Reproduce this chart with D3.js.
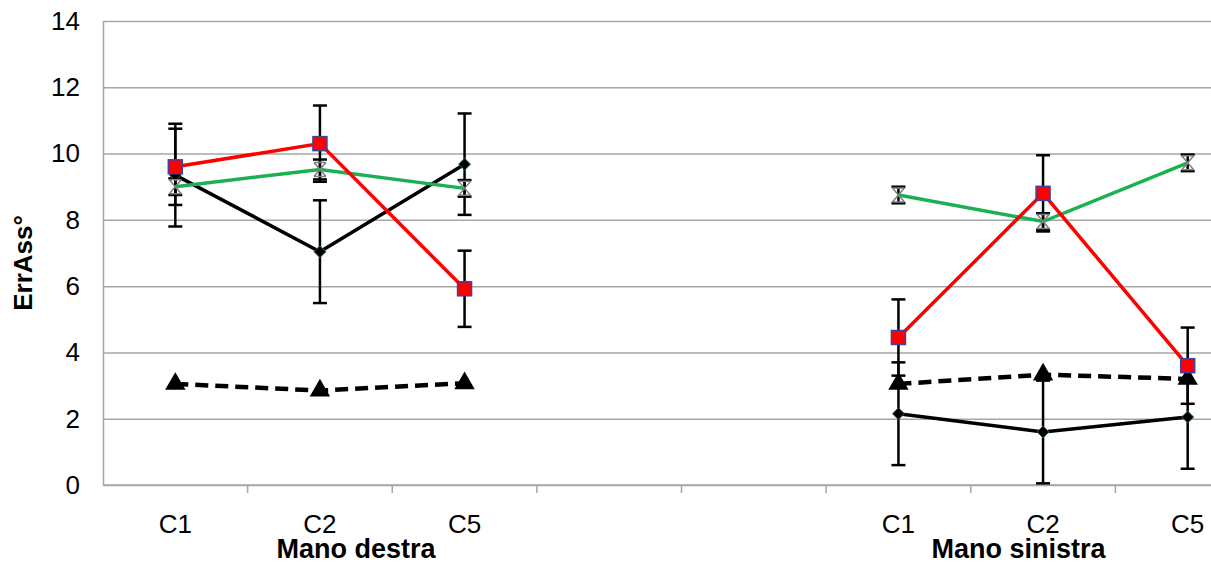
<!DOCTYPE html>
<html>
<head>
<meta charset="utf-8">
<script src="https://cdn.jsdelivr.net/npm/d3@7"></script>
<style>
  body { margin: 0; background: #fff; }
  svg { display: block; font-family: "Liberation Sans", Arial, sans-serif; }
</style>
</head>
<body>
<div id="chart"></div>
<script>
// Category slots (two groups of three, two empty slots between them)
const slots = [0, 1, 2, 3, 4, 5, 6, 7];
const tickLabels = ["C1", "C2", "C5", "", "", "C1", "C2", "C5"];
const groupLabels = ["Mano destra", "Mano sinistra"];
const yTicks = [0, 2, 4, 6, 8, 10, 12, 14];

// Series values (null = empty slot)
const blackMean = [9.35, 7.04, 9.68, null, null, 2.15, 1.6, 2.05];
const blackErr  = [1.55, 1.55, 1.53, null, null, 1.55, 1.55, 1.56];
const redMean   = [9.6, 10.3, 5.92, null, null, 4.45, 8.8, 3.6];
const redErr    = [1.15, 1.15, 1.15, null, null, 1.15, 1.15, 1.15];
const greenMean = [9.0, 9.52, 8.95, null, null, 8.75, 7.95, 9.72];
const greenErr  = [0.25, 0.3, 0.25, null, null, 0.25, 0.25, 0.25];
const triMean   = [3.05, 2.85, 3.07, null, null, 3.05, 3.33, 3.2];

const W = 1211, H = 563;
const plotLeft = 103, plotTop = 21, plotBottom = 485;

const svg = d3.select('#chart').append('svg')
    .attr('width', W)
    .attr('height', H);

// scales (plot continues past the right edge, as in the cropped original)
const x = d3.scaleBand().domain(slots).range([plotLeft, 1260]).padding(0);
const y = d3.scaleLinear().domain([0, 14]).range([plotBottom, plotTop]);
const cx = i => x(i) + x.bandwidth() / 2;

// gridlines
svg.append('g')
    .attr('transform', `translate(${plotLeft},0)`)
    .call(d3.axisLeft(y).tickValues(yTicks).tickSize(-(W - plotLeft)).tickFormat(''))
    .call(g => g.select('.domain').remove())
    .call(g => g.selectAll('line').attr('stroke', '#a6a6a6').attr('stroke-width', 1.5));

// y axis labels
svg.append('g')
    .attr('transform', `translate(${plotLeft},0)`)
    .call(d3.axisLeft(y).tickValues(yTicks).tickSize(0).tickPadding(23))
    .call(g => g.select('.domain').attr('stroke', '#a6a6a6').attr('stroke-width', 1.5))
    .call(g => g.selectAll('text')
        .attr('font-size', 26)
        .attr('fill', '#000')
        .attr('font-family', '"Liberation Sans", Arial, sans-serif'));

// x axis line + boundary tick marks
svg.append('line')
    .attr('x1', plotLeft).attr('x2', W)
    .attr('y1', y(0)).attr('y2', y(0))
    .attr('stroke', '#a6a6a6').attr('stroke-width', 1.5);

svg.append('g').selectAll('line')
    .data(slots.slice(1))
    .join('line')
    .attr('x1', d => x(d)).attr('x2', d => x(d))
    .attr('y1', y(0)).attr('y2', y(0) + 8)
    .attr('stroke', '#a6a6a6').attr('stroke-width', 1.5);

// category labels
svg.append('g').selectAll('text')
    .data(slots)
    .join('text')
    .attr('x', d => cx(d))
    .attr('y', 533)
    .attr('text-anchor', 'middle')
    .attr('font-size', 26)
    .text(d => tickLabels[d]);

// group labels
const groupCenters = [
    (x(0) + cx(3)) / 2,
    (x(5) + W) / 2
];
svg.append('g').selectAll('text')
    .data(groupLabels)
    .join('text')
    .attr('x', (d, i) => groupCenters[i])
    .attr('y', 558)
    .attr('text-anchor', 'middle')
    .attr('font-size', 27)
    .attr('font-weight', 'bold')
    .text(d => d);

// y title
svg.append('text')
    .attr('transform', `translate(32,${(plotTop + plotBottom) / 2 + 10}) rotate(-90)`)
    .attr('text-anchor', 'middle')
    .attr('font-size', 26)
    .attr('font-weight', 'bold')
    .text('ErrAss°');

// error bars
function errorBars(mean, err) {
    const data = slots.filter(i => mean[i] != null && err[i] != null);
    const g = svg.append('g').attr('stroke', '#000').attr('stroke-width', 2.5);
    g.selectAll('.v').data(data).join('line')
        .attr('x1', cx).attr('x2', cx)
        .attr('y1', i => y(mean[i] + err[i]))
        .attr('y2', i => y(mean[i] - err[i]));
    g.selectAll('.t').data(data).join('line')
        .attr('x1', i => cx(i) - 7).attr('x2', i => cx(i) + 7)
        .attr('y1', i => y(mean[i] + err[i]))
        .attr('y2', i => y(mean[i] + err[i]));
    g.selectAll('.b').data(data).join('line')
        .attr('x1', i => cx(i) - 7).attr('x2', i => cx(i) + 7)
        .attr('y1', i => y(mean[i] - err[i]))
        .attr('y2', i => y(mean[i] - err[i]));
}

function seriesLine(mean, color, width, dash) {
    const line = d3.line()
        .defined(i => mean[i] != null)
        .x(cx)
        .y(i => y(mean[i]));
    svg.append('path')
        .datum(slots)
        .attr('d', line)
        .attr('fill', 'none')
        .attr('stroke', color)
        .attr('stroke-width', width)
        .attr('stroke-dasharray', dash || null);
}

function pts(mean) {
    return slots.filter(i => mean[i] != null);
}

errorBars(blackMean, blackErr);
errorBars(redMean, redErr);
errorBars(greenMean, greenErr);

seriesLine(triMean, '#000', 4.5, '13,7');
seriesLine(blackMean, '#000', 3.5);
seriesLine(greenMean, '#1bb152', 3.5);
seriesLine(redMean, '#ff0000', 3.5);

// diamond markers
svg.append('g').selectAll('path')
    .data(pts(blackMean))
    .join('path')
    .attr('transform', i => `translate(${cx(i)},${y(blackMean[i])})`)
    .attr('d', d3.symbol(d3.symbolDiamond2, 90))
    .attr('fill', '#000')
    .attr('stroke', '#2f5f5f')
    .attr('stroke-width', 1);

// star markers (green series)
svg.append('g').selectAll('path')
    .data(pts(greenMean))
    .join('path')
    .attr('transform', i => `translate(${cx(i)},${y(greenMean[i])})`)
    .attr('d', 'M-6,-7L6,7M-6,7L6,-7M-6,-7L6,-7M-6,7L6,7')
    .attr('fill', 'none')
    .attr('stroke', '#7f7f7f')
    .attr('stroke-width', 1.5);

// triangle markers
svg.append('g').selectAll('path')
    .data(pts(triMean))
    .join('path')
    .attr('transform', i => `translate(${cx(i)},${y(triMean[i])})`)
    .attr('d', d3.symbol(d3.symbolTriangle, 180))
    .attr('fill', '#000');

// square markers
svg.append('g').selectAll('rect')
    .data(pts(redMean))
    .join('rect')
    .attr('x', i => cx(i) - 7)
    .attr('y', i => y(redMean[i]) - 7)
    .attr('width', 14)
    .attr('height', 14)
    .attr('fill', '#ff0000')
    .attr('stroke', '#4040a0')
    .attr('stroke-width', 1.5);
</script>
</body>
</html>
